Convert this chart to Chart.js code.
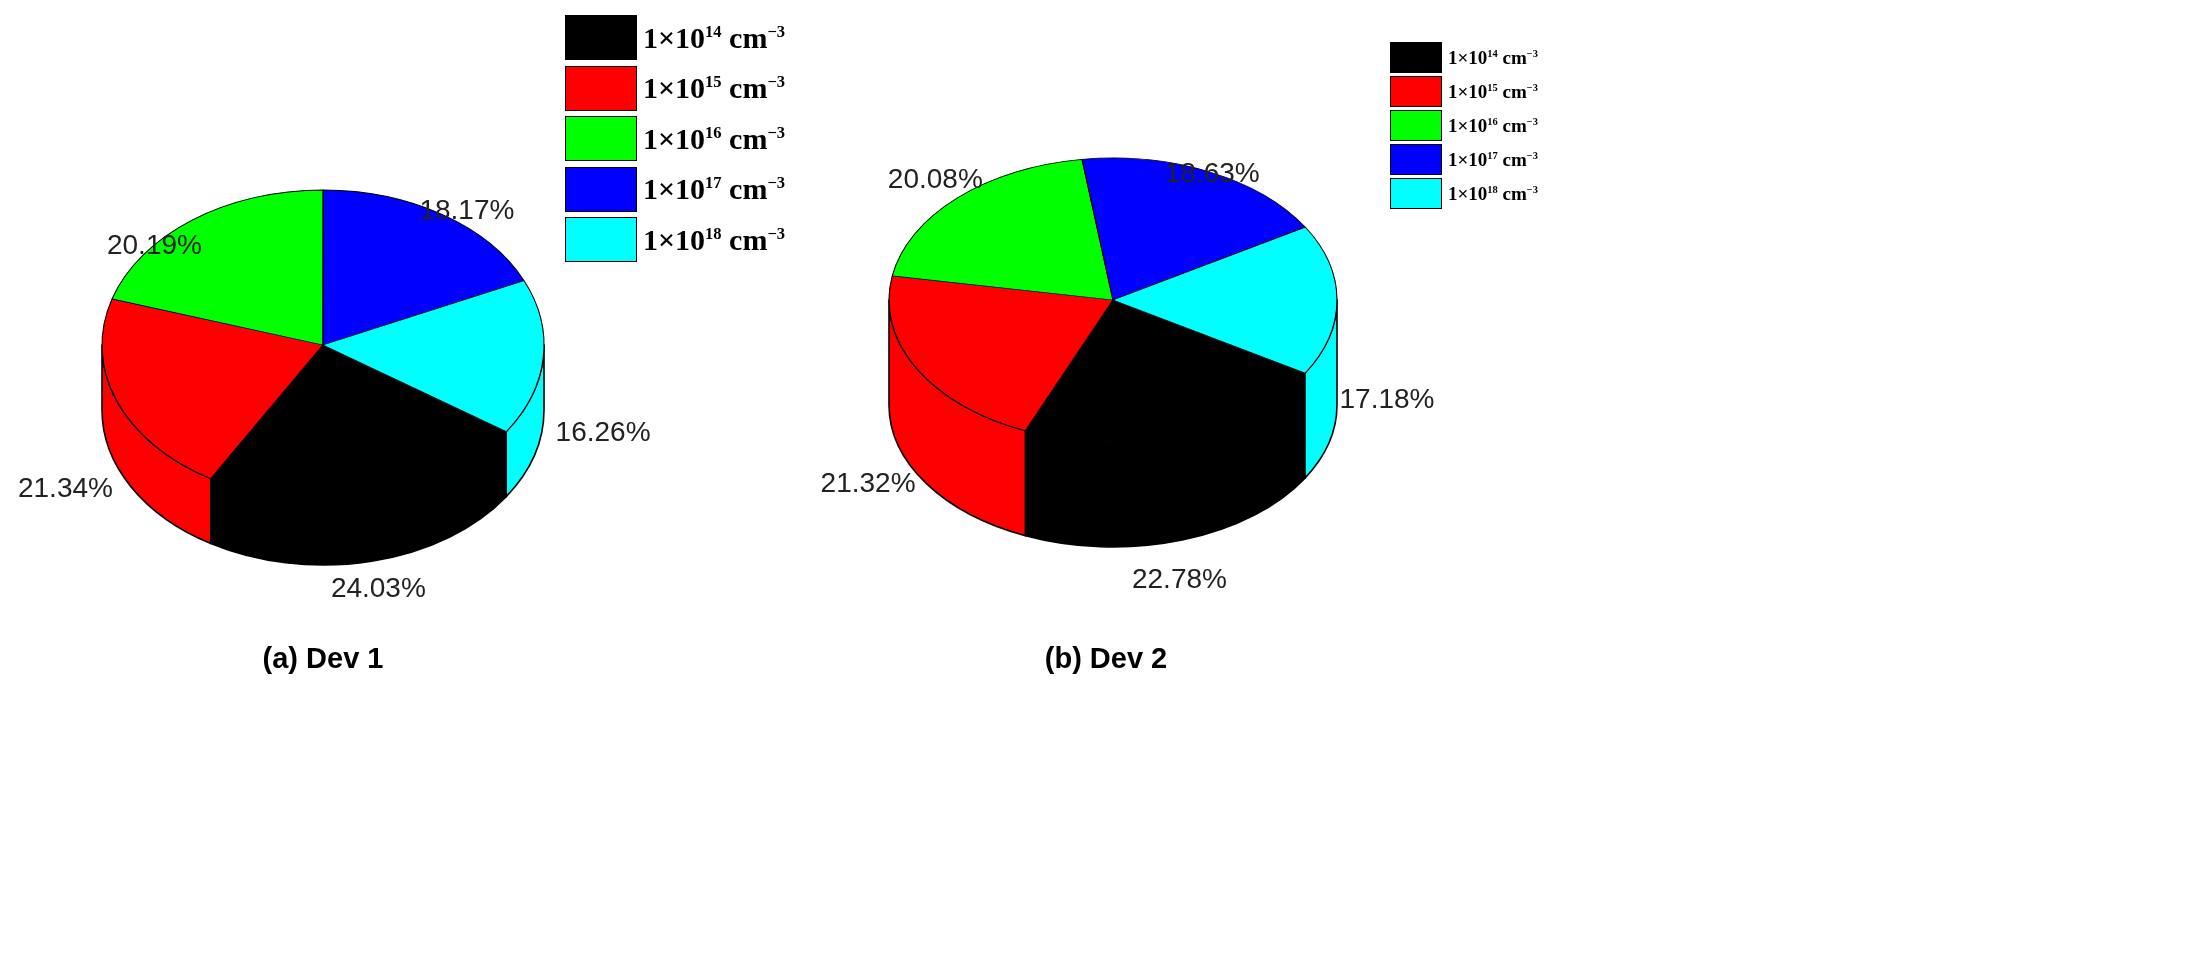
<!DOCTYPE html>
<html><head><meta charset="utf-8">
<script src="https://cdn.jsdelivr.net/npm/chart.js@4.4.0/dist/chart.umd.min.js"></script>
<style>
body{margin:0;background:#fff;width:2205px;height:967px;position:relative;overflow:hidden;font-family:"Liberation Sans",Arial,sans-serif}
canvas{position:absolute}
.leg{position:absolute;font-family:"Liberation Serif","Times New Roman",serif;font-weight:bold}
.row{position:absolute;display:flex;align-items:center;white-space:nowrap}
.box{border:1.5px solid #000;box-sizing:border-box}
.title{position:absolute;font-weight:bold;font-size:29px;transform:translateX(-50%)}
</style></head><body>
<canvas id="c1" style="left:0px;top:0px" width="800" height="700"></canvas>
<canvas id="c2" style="left:800px;top:0px" width="800" height="700"></canvas>
<div id="l1" class="leg"></div><div id="l2" class="leg"></div>
<div class="title" style="left:323px;top:642px">(a) Dev 1</div>
<div class="title" style="left:1106px;top:642px;font-weight:600">(b) Dev 2</div>
<script>
const categories=["14","15","16","17","18"];
const colors=["#000000","#ff0000","#00ff00","#0000ff","#00ffff"];
const dev1Values=[24.03,21.34,20.19,18.17,16.26];
const dev2Values=[22.78,21.32,20.08,18.63,17.18];

function makeLegend(id,x,y,bw,bh,step,fs){
  const el=document.getElementById(id);el.style.left=x+'px';el.style.top=y+'px';
  categories.forEach((c,i)=>{
    const r=document.createElement('div');r.className='row';r.style.top=(i*step)+'px';
    r.innerHTML=`<div class="box" style="width:${bw}px;height:${bh}px;background:${colors[i]}"></div><span style="font-size:${fs}px;margin-left:6px">1×10<sup style="font-size:${fs*0.55}px">${c}</sup> cm<sup style="font-size:${fs*0.55}px">−3</sup></span>`;
    el.appendChild(r);
  });
}
makeLegend('l1',565,15,72,45,50.5,30);
makeLegend('l2',1390,42,52,31,34,19);

function pie3d(cv,vals,rot,g){
  const plugin={id:'p3d',
    beforeDatasetsDraw(chart){
      const ctx=chart.ctx,arcs=chart.getDatasetMeta(0).data;
      const a0=arcs[0],R=a0.outerRadius,ox=a0.x,oy=a0.y;
      const {cx,cy,rx,ry,d}=g;
      ctx.save();
      ctx.lineWidth=1.6;ctx.strokeStyle='#000';ctx.lineJoin='round';
      arcs.forEach((a,i)=>{
        for(const k of [-2*Math.PI,0,2*Math.PI]){
          const s=Math.max(a.startAngle+k,0),e=Math.min(a.endAngle+k,Math.PI);
          if(e<=s)continue;
          ctx.beginPath();
          ctx.ellipse(cx,cy,rx,ry,0,s,e);
          ctx.ellipse(cx,cy+d,rx,ry,0,e,s,true);
          ctx.closePath();ctx.fillStyle=colors[i];ctx.fill();ctx.stroke();
        }
      });
      ctx.translate(cx,cy);ctx.scale(rx/R,ry/R);ctx.translate(-ox,-oy);
    },
    afterDatasetsDraw(chart){
      const ctx=chart.ctx;ctx.restore();
      const arcs=chart.getDatasetMeta(0).data;const {cx,cy,rx,ry,d,off}=g;
      ctx.save();ctx.font='28px "Liberation Sans",Arial,sans-serif';ctx.fillStyle='#222';
      ctx.textAlign='center';ctx.textBaseline='middle';
      arcs.forEach((a,i)=>{
        const m=(a.startAngle+a.endAngle)/2,o=off[i];
        let x=cx+(rx+o[0])*Math.cos(m),y=cy+(ry+o[0])*Math.sin(m)+(Math.sin(m)>0?d*Math.sin(m):0)+o[1];
        ctx.fillText(vals[i].toFixed(2)+'%',x+o[2],y);
      });
      ctx.restore();
    }};
  return new Chart(cv,{type:'pie',
    data:{labels:categories,datasets:[{data:vals,backgroundColor:colors,borderColor:'#000',borderWidth:1.5}]},
    options:{responsive:false,animation:false,rotation:rot,layout:{padding:50},
      plugins:{legend:{display:false},tooltip:{enabled:false}}},
    plugins:[plugin]});
}
pie3d(document.getElementById('c1'),dev1Values,124,{cx:323,cy:345,rx:221,ry:155,d:65,
  off:[[30,0,0],[55,45,0],[40,58,-14],[45,34,0],[60,65,0]]});
pie3d(document.getElementById('c2'),dev2Values,121,{cx:313,cy:300,rx:224,ry:142,d:105,
  off:[[30,17,-12],[55,40,0],[40,11,6],[45,43,-17],[60,100,-10]]});
</script></body></html>
